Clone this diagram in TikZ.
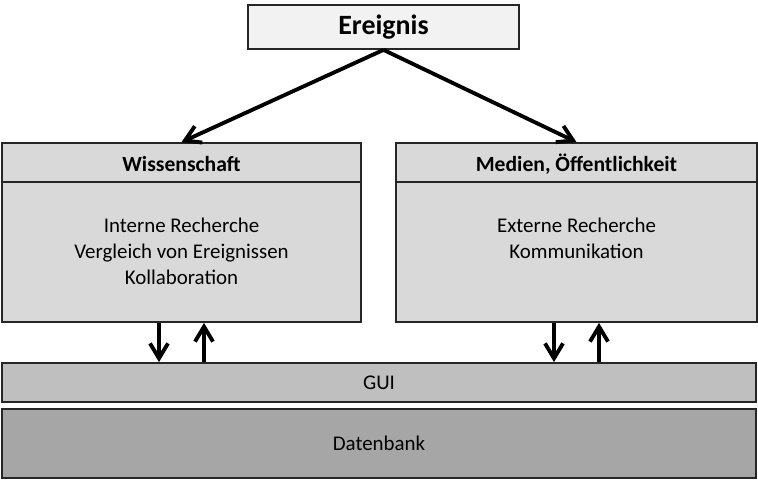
\documentclass[tikz,border=0pt]{standalone}
\usepackage{fontspec}
\setmainfont{Carlito}
\usetikzlibrary{arrows.meta,positioning}

\definecolor{hellgrau}{HTML}{F2F2F2}
\definecolor{mittelgrau}{HTML}{D9D9D9}
\definecolor{guigrau}{HTML}{BFBFBF}
\definecolor{dbgrau}{HTML}{A6A6A6}
\definecolor{rahmen}{HTML}{262626}

\tikzset{
  kasten/.style={draw=rahmen, line width=1pt, inner sep=0pt},
  pfeil/.style={line width=2.2pt, -{Straight Barb[length=0.3cm, width=0.36cm, line width=2.2pt]}},
  txt/.style={font=\fontsize{11.9}{14.7}\selectfont, align=center},
  titel/.style={font=\bfseries\fontsize{12.3}{14.7}\selectfont, text height=11pt, text depth=0.4pt}
}

\begin{document}
\begin{tikzpicture}[x=0.02cm, y=-0.02cm]

        % Rahmen des Bildes
        \useasboundingbox (0,0) rectangle (758,481);

        % Ereignis oben
        \node[kasten, fill=hellgrau, minimum width=5.42cm, minimum height=0.88cm,
              font=\bfseries\fontsize{15.9}{18}\selectfont] (ereignis) at (383.5,27) {Ereignis};

        % die beiden Bereiche
        \node[kasten, fill=mittelgrau, minimum width=7.18cm, minimum height=3.58cm] (wiss) at (181.5,232.5) {};
        \node[kasten, fill=mittelgrau, minimum width=7.22cm, minimum height=3.58cm] (medien) at (576.5,232.5) {};

        % Kopfzeilen
        \node[kasten, titel, anchor=north, minimum width=7.18cm, minimum height=0.78cm] (wisskopf) at (wiss.north) {Wissenschaft};
        \node[kasten, titel, anchor=north, minimum width=7.22cm, minimum height=0.78cm] (medienkopf) at (medien.north) {Medien, Öffentlichkeit};

        % Inhalte
        \node[txt] (wissinhalt) at (181.5,251) {Interne Recherche\\Vergleich von Ereignissen\\Kollaboration};
        \node[txt] (medieninhalt) at (576.5,238.5) {Externe Recherche\\Kommunikation};

        % GUI und Datenbank
        \node[kasten, fill=guigrau, minimum width=15.08cm, minimum height=0.78cm, txt] (gui) at (379,382.5) {GUI};
        \node[kasten, fill=dbgrau, minimum width=15.08cm, minimum height=1.38cm, txt] (db) at (379,443.5) {Datenbank};

        % Pfeile vom Ereignis
        \draw[pfeil] (ereignis.south) -- (wiss.north);
        \draw[pfeil] (ereignis.south) -- (medien.north);

        % Pfeile zwischen Bereichen und GUI
        \foreach \b in {wiss,medien} {
          \coordinate (\b runter) at ([xshift=-0.45cm]\b.south);
          \coordinate (\b hoch) at ([xshift=0.45cm]\b.south);
          \draw[pfeil] (\b runter) -- (\b runter |- gui.north);
          \draw[pfeil] (\b hoch |- gui.north) -- (\b hoch);
        }

    \end{tikzpicture}
\end{document}
